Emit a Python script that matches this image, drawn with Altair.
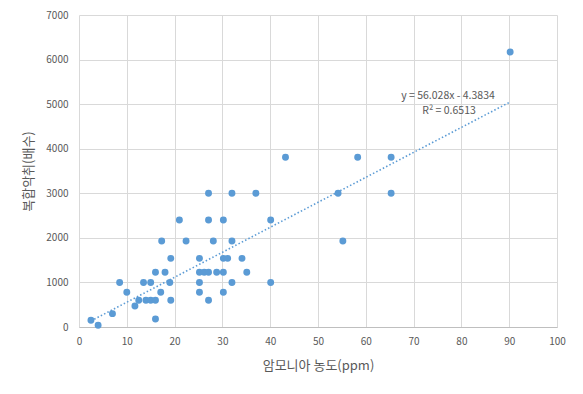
import altair as alt
import pandas as pd

# Ammonia concentration (ppm)
ammonia = [2.5, 4, 7, 8.5, 10, 11.7, 12.5, 13.5, 14, 15, 15, 16, 16, 16, 17.1, 17.3, 18, 19, 19.2, 19.2,
           21, 22.4, 25.2, 25.2, 26.2, 27.1, 25.2, 25.2, 27.1, 27.1, 27.1, 28.1, 28.8, 30.2, 30.2, 30.2,
           30.2, 31.1, 32, 32, 32, 34.1, 35.1, 37, 40.1, 40.1, 43.2, 54.2, 55.2, 58.3, 65.3, 65.3, 90.2]
# Complex odor (dilution factor)
odor = [150, 40, 300, 1000, 780, 470, 600, 1000, 600, 1000, 600, 600, 180, 1230, 780, 1930, 1230, 1000, 1540, 600,
        2400, 1930, 1540, 1230, 1230, 1230, 1000, 780, 600, 3000, 2400, 1930, 1230, 1230, 2400, 1540,
        780, 1540, 3000, 1930, 1000, 1540, 1230, 3000, 2400, 1000, 3810, 3000, 1930, 3810, 3810, 3000, 6170]

slope = 56.028
intercept = -4.3834
eq_text = "y = 56.028x - 4.3834"
r2_text = "R² = 0.6513"

x_ticks = list(range(0, 101, 10))
y_ticks = list(range(0, 7001, 1000))

df = pd.DataFrame({"x": ammonia, "y": odor})
xmin, xmax = min(ammonia), max(ammonia)
trend = pd.DataFrame({"x": [xmin, xmax], "y": [slope * xmin + intercept, slope * xmax + intercept]})

FONT = "Noto Sans CJK KR"
BLUE = "#5B9BD5"
TXT = "#595959"

xscale = alt.Scale(domain=[0, 100], nice=False, zero=False)
yscale = alt.Scale(domain=[0, 7000], nice=False)

xaxis = alt.Axis(values=x_ticks, format="d", title="암모니아 농도(ppm)", grid=True, gridColor="#D9D9D9",
                 ticks=False, domainColor="#BFBFBF", labelColor=TXT, labelFontSize=10, labelFont=FONT,
                 labelPadding=9, titleFont=FONT, titleFontSize=13, titleColor=TXT, titleFontWeight="normal",
                 titlePadding=13, labelFlush=False)
yaxis = alt.Axis(values=y_ticks, format="d", title="복합악취(배수)", grid=True, gridColor="#D9D9D9",
                 ticks=False, domain=False, labelColor=TXT, labelFontSize=10, labelFont=FONT,
                 labelPadding=11, titleFont=FONT, titleFontSize=13, titleColor=TXT, titleFontWeight="normal",
                 titlePadding=10)

points = alt.Chart(df).mark_circle(size=48, color=BLUE, opacity=1).encode(
    x=alt.X("x:Q", scale=xscale, axis=xaxis),
    y=alt.Y("y:Q", scale=yscale, axis=yaxis),
)

line = alt.Chart(trend).mark_line(color=BLUE, strokeWidth=1.6, strokeDash=[1.5, 2.2]).encode(
    x=alt.X("x:Q", scale=xscale),
    y=alt.Y("y:Q", scale=yscale),
)

labels = pd.DataFrame({"t": [eq_text, r2_text], "px": [369, 370], "py": [81, 96]})
text = alt.Chart(labels).mark_text(font=FONT, fontSize=10.5, color=TXT, align="center", baseline="middle").encode(
    x=alt.X("px:Q", scale=None),
    y=alt.Y("py:Q", scale=None),
    text="t:N",
)

chart = alt.layer(line, points, text).properties(
    width=478, height=312,
    autosize=alt.AutoSizeParams(type="none"),
    padding={"left": 71, "top": 7, "right": 18, "bottom": 59},
    background="white",
).configure_view(stroke=None)

chart.save("out.html", embed_options={"renderer": "svg", "actions": False})
